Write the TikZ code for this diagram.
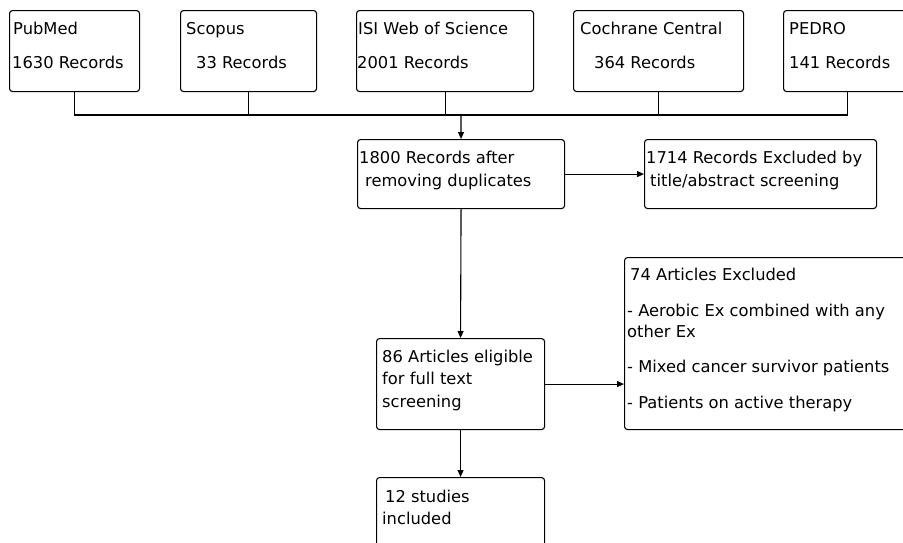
\documentclass[tikz,border=0pt]{standalone}
\usepackage{fontspec}
\setmainfont{DejaVu Sans}
\usetikzlibrary{positioning}
\usetikzlibrary{arrows.meta}

\begin{document}
\begin{tikzpicture}[x=1pt, y=-1pt,
		box/.style = {rectangle, draw=black, line width=1.1pt, rounded corners=3pt, anchor=north west, inner sep=0pt},
		txt/.style = {anchor=base west, inner sep=0pt, font=\fontsize{16.3}{19}\selectfont, text=black},
		ln/.style  = {draw=black, line width=1.1pt},
		arr/.style = {ln, -{Triangle[length=7pt, width=6pt]}}
		]
	\useasboundingbox (0,0) rectangle (903,542);
	\clip (0,0) rectangle (903,542);

	%Boxes
	\node[box, minimum width=130pt, minimum height=81pt]	(pubmed)	at (9, 10)		{};
	\node[box, minimum width=136pt, minimum height=81pt]	(scopus)	at (180, 10)	{};
	\node[box, minimum width=177pt, minimum height=81pt]	(isi)		at (356, 10)	{};
	\node[box, minimum width=170pt, minimum height=81pt]	(cochrane)	at (573, 10)	{};
	\node[box, minimum width=128pt, minimum height=81pt]	(pedro)		at (783, 10)	{};
	\node[box, minimum width=207pt, minimum height=69pt]	(rec1800)	at (357, 139)	{};
	\node[box, minimum width=232pt, minimum height=69pt]	(exc1714)	at (644, 139)	{};
	\node[box, minimum width=168pt, minimum height=91pt]	(art86)		at (376, 338)	{};
	\node[box, minimum width=287pt, minimum height=172pt]	(exc74)		at (624, 257)	{};
	\node[box, minimum width=168pt, minimum height=80pt]	(incl12)	at (376, 477)	{};

	%Texts
	\node[txt]	(pubmed-a)		at (13, 34)		{PubMed};
	\node[txt]	(pubmed-b)		at (12, 68)		{1630 Records};
	\node[txt]	(scopus-a)		at (186, 34)	{Scopus};
	\node[txt]	(scopus-b)		at (196, 68)	{33 Records};
	\node[txt]	(isi-a)			at (358, 34)	{ISI Web of Science};
	\node[txt]	(isi-b)			at (357, 68)	{2001 Records};
	\node[txt]	(cochrane-a)	at (580, 34)	{Cochrane Central};
	\node[txt]	(cochrane-b)	at (594, 68)	{364 Records};
	\node[txt]	(pedro-a)		at (789, 34)	{PEDRO};
	\node[txt]	(pedro-b)		at (789, 68)	{141 Records};
	\node[txt]	(rec1800-a)		at (359, 163)	{1800 Records after};
	\node[txt]	(rec1800-b)		at (365, 186)	{removing duplicates};
	\node[txt]	(exc1714-a)		at (646, 163)	{1714 Records Excluded by};
	\node[txt]	(exc1714-b)		at (650, 186)	{title/abstract screening};
	\node[txt]	(art86-a)		at (382, 362)	{86 Articles eligible};
	\node[txt]	(art86-b)		at (382, 384)	{for full text};
	\node[txt]	(art86-c)		at (382, 407)	{screening};
	\node[txt]	(exc74-a)		at (630, 280)	{74 Articles Excluded};
	\node[txt]	(exc74-b)		at (627, 316)	{- Aerobic Ex combined with any};
	\node[txt]	(exc74-c)		at (627, 337)	{other Ex};
	\node[txt]	(exc74-d)		at (627, 372)	{- Mixed cancer survivor patients};
	\node[txt]	(exc74-e)		at (627, 408)	{- Patients on active therapy};
	\node[txt]	(incl12-a)		at (385, 502)	{12 studies};
	\node[txt]	(incl12-b)		at (382, 524)	{included};

	%Lines
	\coordinate (join) at (461, 115);
	\draw[ln]	(pubmed.south)		|-	(join);
	\draw[ln]	(pedro.south)		|-	(join);
	\draw[ln]	(scopus.south)		--	(scopus.south |- join);
	\draw[ln]	(isi.south)			--	(isi.south |- join);
	\draw[ln]	(cochrane.south)	--	(cochrane.south |- join);
	\draw[arr]	(join)				--	(rec1800.north);
	\draw[arr]	(rec1800.east)		--	(exc1714.west);
	\draw[arr]	(rec1800.south)		--	(art86.north);
	\draw[arr]	(art86.east)		--	(art86.east -| exc74.west);
	\draw[arr]	(art86.south)		--	(incl12.north);
\end{tikzpicture}
\end{document}
